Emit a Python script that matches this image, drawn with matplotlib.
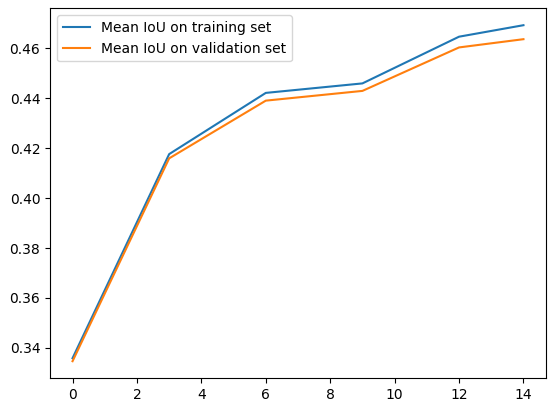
import matplotlib
matplotlib.use('Agg')
import matplotlib.pyplot as plt

epochs = [0, 3, 6, 9, 12, 14]
train_iou = [0.3359, 0.4176, 0.4421, 0.4459, 0.4646, 0.4692]
val_iou = [0.3347, 0.4159, 0.4390, 0.4429, 0.4603, 0.4636]

fig = plt.figure(figsize=(5.56, 4.13), dpi=100)
ax = fig.add_axes([50 / 556, 35 / 413, 496 / 556, 369.6 / 413])

ax.plot(epochs, train_iou, label='Mean IoU on training set')
ax.plot(epochs, val_iou, label='Mean IoU on validation set')
ax.legend(loc='upper left')

fig.savefig('out.png', dpi=100)
